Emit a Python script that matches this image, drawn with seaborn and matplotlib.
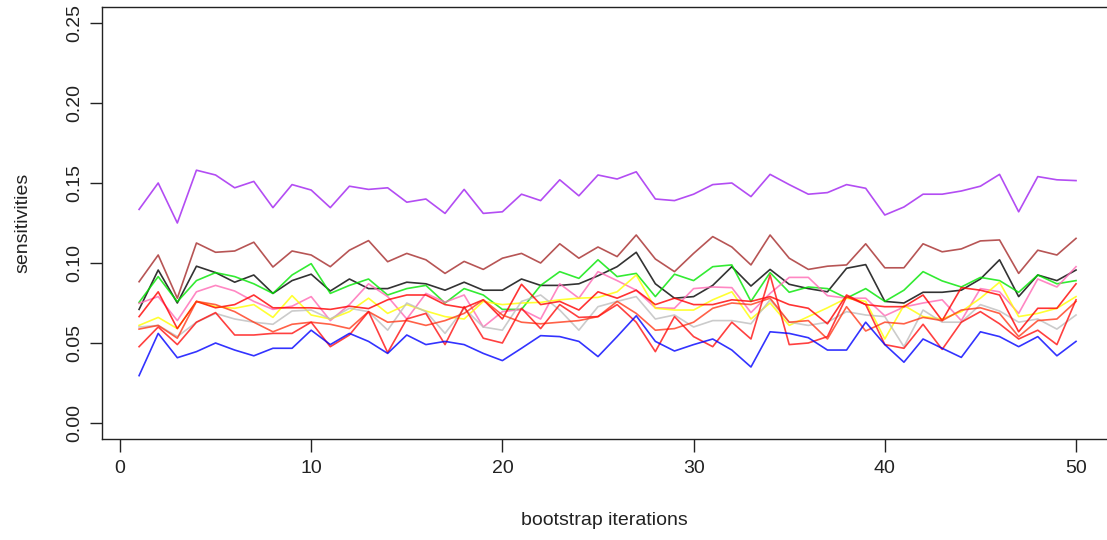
import numpy as np
import pandas as pd
import matplotlib
matplotlib.use("Agg")
import matplotlib.pyplot as plt
import seaborn as sns

iterations = list(range(1, 51))

purple = [0.1335, 0.150, 0.125, 0.158, 0.155, 0.147, 0.151, 0.1346, 0.149,
          0.1456, 0.1346, 0.148, 0.146, 0.147, 0.138, 0.140, 0.131,
          0.146, 0.131, 0.132, 0.143, 0.139, 0.152, 0.142, 0.155,
          0.1525, 0.157, 0.140, 0.139, 0.143, 0.149, 0.150, 0.1415,
          0.1554, 0.149, 0.143, 0.144, 0.149, 0.1467, 0.130, 0.135,
          0.143, 0.143, 0.145, 0.148, 0.1554, 0.132, 0.154, 0.152, 0.1515]
brown = [0.0883, 0.105, 0.078, 0.1125, 0.1067, 0.1075, 0.113, 0.0975, 0.1075,
         0.105, 0.0977, 0.108, 0.114, 0.1008, 0.106, 0.102, 0.0935,
         0.101, 0.096, 0.103, 0.106, 0.100, 0.112, 0.103, 0.110,
         0.104, 0.1175, 0.1025, 0.0946, 0.106, 0.1165, 0.110, 0.0988,
         0.1175, 0.103, 0.096, 0.098, 0.0988, 0.112, 0.097, 0.097,
         0.112, 0.107, 0.1088, 0.1138, 0.1144, 0.0935, 0.108, 0.105, 0.1154]
black = [0.071, 0.0956, 0.075, 0.098, 0.094, 0.088, 0.0925, 0.081, 0.089,
         0.093, 0.0825, 0.090, 0.084, 0.084, 0.088, 0.087, 0.083,
         0.088, 0.083, 0.083, 0.090, 0.086, 0.086, 0.087, 0.092,
         0.0977, 0.1067, 0.087, 0.078, 0.079, 0.086, 0.0977, 0.0856,
         0.096, 0.0867, 0.084, 0.082, 0.0967, 0.099, 0.076, 0.075,
         0.0817, 0.0817, 0.083, 0.090, 0.102, 0.079, 0.0925, 0.089, 0.0956]
green = [0.0754, 0.0915, 0.0758, 0.089, 0.094, 0.0915, 0.087, 0.081, 0.0925,
         0.0996, 0.081, 0.086, 0.090, 0.080, 0.084, 0.086, 0.075,
         0.084, 0.080, 0.071, 0.071, 0.086, 0.0946, 0.0904, 0.102,
         0.0915, 0.0935, 0.079, 0.093, 0.089, 0.0977, 0.0988, 0.076,
         0.094, 0.0817, 0.085, 0.084, 0.078, 0.084, 0.076, 0.083,
         0.0946, 0.0888, 0.085, 0.091, 0.089, 0.0817, 0.0925, 0.087, 0.089]
hotpink = [0.0748, 0.079, 0.064, 0.082, 0.086, 0.0825, 0.076, 0.071, 0.073,
           0.079, 0.064, 0.074, 0.087, 0.079, 0.065, 0.081, 0.0755,
           0.080, 0.060, 0.0696, 0.071, 0.065, 0.087, 0.078, 0.0946,
           0.089, 0.083, 0.072, 0.0717, 0.084, 0.085, 0.0846, 0.069,
           0.081, 0.091, 0.091, 0.0796, 0.078, 0.078, 0.067, 0.0725,
           0.075, 0.077, 0.064, 0.084, 0.082, 0.0685, 0.090, 0.085, 0.0977]
yellow = [0.061, 0.066, 0.059, 0.076, 0.0727, 0.0717, 0.074, 0.066, 0.0796,
          0.0675, 0.065, 0.0696, 0.078, 0.0685, 0.074, 0.070, 0.0665,
          0.065, 0.076, 0.074, 0.075, 0.0754, 0.077, 0.078, 0.0785,
          0.082, 0.0925, 0.0717, 0.0706, 0.0706, 0.077, 0.082, 0.065,
          0.075, 0.061, 0.0665, 0.072, 0.078, 0.076, 0.0525, 0.0735,
          0.0665, 0.065, 0.0696, 0.078, 0.088, 0.0665, 0.0685, 0.0717, 0.079]
gray = [0.060, 0.061, 0.054, 0.063, 0.0685, 0.065, 0.063, 0.0617, 0.0700,
        0.0706, 0.065, 0.0717, 0.0696, 0.058, 0.075, 0.0696, 0.056,
        0.0717, 0.060, 0.058, 0.076, 0.080, 0.0706, 0.058, 0.0727,
        0.076, 0.079, 0.065, 0.0675, 0.060, 0.064, 0.064, 0.062,
        0.077, 0.063, 0.061, 0.063, 0.0696, 0.0675, 0.0665, 0.0477,
        0.0706, 0.063, 0.063, 0.074, 0.070, 0.063, 0.065, 0.0587, 0.0675]
red_a = [0.0665, 0.082, 0.059, 0.076, 0.072, 0.074, 0.080, 0.072, 0.072,
         0.072, 0.071, 0.073, 0.0715, 0.077, 0.080, 0.080, 0.074,
         0.072, 0.077, 0.065, 0.0867, 0.074, 0.076, 0.0706, 0.082,
         0.078, 0.083, 0.074, 0.078, 0.074, 0.074, 0.077, 0.076,
         0.079, 0.074, 0.0717, 0.062, 0.080, 0.074, 0.0727, 0.0727,
         0.080, 0.064, 0.0846, 0.083, 0.080, 0.057, 0.0717, 0.0717, 0.087]
red_b = [0.0587, 0.061, 0.053, 0.076, 0.074, 0.0696, 0.063, 0.057, 0.0617,
         0.063, 0.0617, 0.059, 0.0696, 0.063, 0.064, 0.061, 0.064,
         0.0685, 0.077, 0.0675, 0.063, 0.062, 0.063, 0.064, 0.0665,
         0.076, 0.0685, 0.058, 0.059, 0.063, 0.0717, 0.075, 0.074,
         0.078, 0.063, 0.064, 0.0525, 0.0727, 0.0575, 0.063, 0.062,
         0.066, 0.064, 0.0706, 0.072, 0.0685, 0.054, 0.064, 0.065, 0.076]
red_c = [0.0477, 0.060, 0.049, 0.063, 0.069, 0.055, 0.055, 0.056, 0.056,
         0.063, 0.0477, 0.055, 0.0696, 0.044, 0.065, 0.0685, 0.049,
         0.0727, 0.053, 0.050, 0.0717, 0.059, 0.074, 0.066, 0.0665,
         0.074, 0.063, 0.0446, 0.0665, 0.054, 0.0477, 0.063, 0.0525,
         0.0925, 0.049, 0.050, 0.054, 0.079, 0.074, 0.049, 0.0467,
         0.0617, 0.046, 0.063, 0.0696, 0.062, 0.0525, 0.058, 0.049, 0.077]
blue = [0.0296, 0.056, 0.0408, 0.0446, 0.050, 0.0456, 0.042, 0.0467, 0.0467,
        0.058, 0.049, 0.056, 0.051, 0.0435, 0.055, 0.049, 0.051,
        0.049, 0.0435, 0.039, 0.0467, 0.0546, 0.054, 0.051, 0.0415,
        0.054, 0.067, 0.051, 0.045, 0.049, 0.0525, 0.0456, 0.035,
        0.057, 0.056, 0.0533, 0.0456, 0.0456, 0.063, 0.049, 0.038,
        0.0525, 0.0467, 0.041, 0.057, 0.054, 0.0477, 0.054, 0.042, 0.051]

series = {
    "purple": purple, "brown": brown, "black": black, "green": green,
    "hotpink": hotpink, "yellow": yellow, "gray": gray,
    "red_a": red_a, "red_b": red_b, "red_c": red_c, "blue": blue,
}
palette = {
    "purple": "#A020F0", "brown": "#A52A2A", "black": "#000000",
    "green": "#00E600", "hotpink": "#FF69B4", "yellow": "#FFFF00",
    "gray": "#BEBEBE", "red_a": "#FF0000", "red_b": "#FF3A1A",
    "red_c": "#FF1010", "blue": "#0000FF",
}

rows = []
for name, vals in series.items():
    for it, v in zip(iterations, vals):
        rows.append({"iteration": it, "sensitivity": v, "series": name})
df = pd.DataFrame(rows)

plt.rcParams['font.family'] = ['Liberation Sans', 'DejaVu Sans']
fig = plt.figure(figsize=(11.07, 5.40), dpi=100)
W, H = 1107, 540
left, right, top, bottom = 101.6, 1113.5, 7, 439
ax = fig.add_axes([left / W, (H - bottom) / H, (right - left) / W, (bottom - top) / H])

sns.lineplot(data=df, x="iteration", y="sensitivity", hue="series",
             palette=palette, legend=False, estimator=None, sort=False,
             linewidth=1.2, alpha=0.8, ax=ax)

ax.set_xlim(-0.96, 51.96)
ax.set_ylim(-0.01, 0.26)
ax.set_xticks([0, 10, 20, 30, 40, 50])
ax.set_yticks([0.00, 0.05, 0.10, 0.15, 0.20, 0.25])
ax.set_yticklabels(["0.00", "0.05", "0.10", "0.15", "0.20", "0.25"],
                   rotation=90, va="center")
fs = 14
ax.tick_params(axis="both", direction="out", length=9, width=1.0,
               labelsize=fs, colors="#222222")
ax.tick_params(axis="x", pad=6)
ax.tick_params(axis="y", pad=4.5)
for s in ax.spines.values():
    s.set_linewidth(1.0)
    s.set_color("#222222")
ax.set_xlabel("bootstrap iterations", fontsize=fs, color="#222222")
ax.set_ylabel("sensitivities", fontsize=fs, color="#222222")
ax.xaxis.set_label_coords(0.497, (bottom - 512) / (bottom - top))
ax.yaxis.set_label_coords((31 - left) / (right - left), 0.5)
ax.grid(False)

fig.savefig("out.png", dpi=100)
